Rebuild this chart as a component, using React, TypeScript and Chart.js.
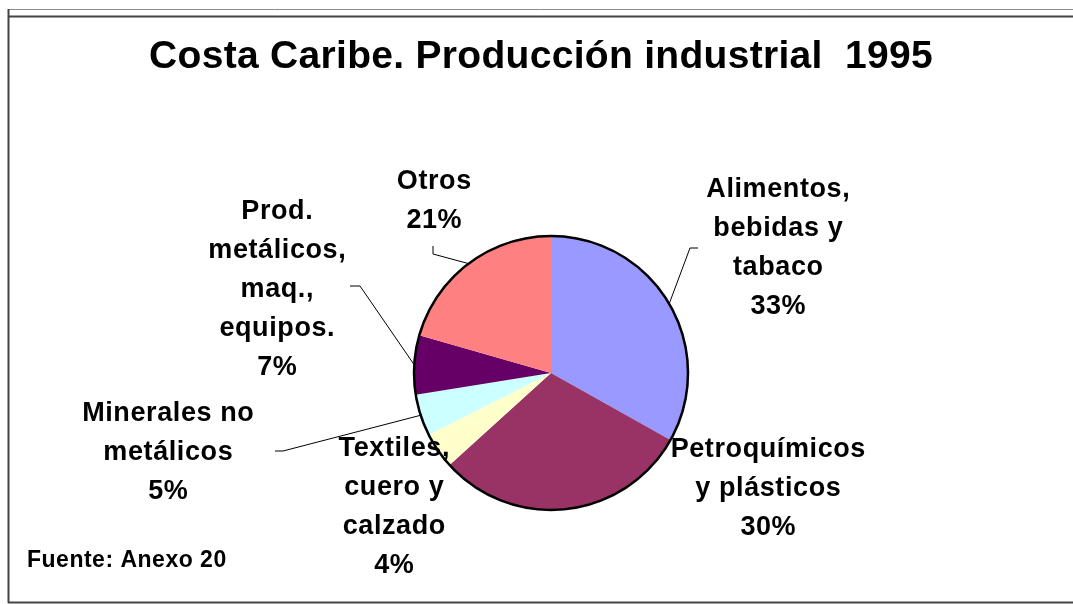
import React, { useEffect, useRef } from "react";
import { Chart, registerables } from "chart.js";
Chart.register(...registerables);

// ---- data ----
const titleText = "Costa Caribe. Producción industrial  1995";
const sourceText = "Fuente: Anexo 20";
const categories: string[][] = [
  ["Alimentos,", "bebidas y", "tabaco"],
  ["Petroquímicos", "y plásticos"],
  ["Textiles,", "cuero y", "calzado"],
  ["Minerales no", "metálicos"],
  ["Prod.", "metálicos,", "maq.,", "equipos."],
  ["Otros"],
];
const values = [33.2, 30.2, 4.3, 4.9, 7.0, 20.6];
const colors = ["#9999FF", "#993366", "#FFFFCC", "#CCFFFF", "#660066", "#FF8080"];

// ---- layout (label anchors: centre x, first baseline) ----
const labelPos = [
  { x: 778, y: 197 },
  { x: 768, y: 457 },
  { x: 394, y: 456 },
  { x: 168, y: 421 },
  { x: 277, y: 219 },
  { x: 434, y: 189 },
];
// leader lines: elbow and end points (null = no leader)
const leaders: (number[][] | null)[] = [
  [[690, 248], [698, 248]],
  null,
  null,
  [[283, 451], [275, 451]],
  [[360, 286], [350, 286]],
  [[433, 254], [433, 246]],
];
const FONT = "'Liberation Sans', Arial, Helvetica, sans-serif";

export default function App() {
  const ref = useRef<HTMLCanvasElement>(null);
  useEffect(() => {
    document.body.style.margin = "0";
    document.body.style.overflow = "hidden";
    const canvas = ref.current!;
    const overlay = {
      id: "overlay",
      beforeDraw(chart: any) {
        const ctx = chart.ctx;
        ctx.save();
        ctx.fillStyle = "#ffffff";
        ctx.fillRect(0, 0, chart.width, chart.height);
        ctx.restore();
      },
      afterDatasetsDraw(chart: any) {
        const ctx: CanvasRenderingContext2D = chart.ctx;
        const arcs = chart.getDatasetMeta(0).data as any[];
        const cx = arcs[0].x, cy = arcs[0].y, r = arcs[0].outerRadius;
        ctx.save();
        // pie outline
        ctx.beginPath();
        ctx.arc(cx, cy, r, 0, Math.PI * 2);
        ctx.lineWidth = 2.5;
        ctx.strokeStyle = "#000";
        ctx.stroke();

        // frame
        ctx.lineWidth = 1;
        ctx.strokeStyle = "#8a8a8a";
        ctx.beginPath();
        ctx.moveTo(8.5, 9.5);
        ctx.lineTo(chart.width, 9.5);
        ctx.stroke();
        ctx.lineWidth = 2;
        ctx.strokeStyle = "#444";
        ctx.beginPath();
        ctx.moveTo(8, 16.5);
        ctx.lineTo(chart.width, 16.5);
        ctx.moveTo(8.5, 9);
        ctx.lineTo(8.5, 603);
        ctx.moveTo(8, 602.5);
        ctx.lineTo(chart.width, 602.5);
        ctx.stroke();

        // leaders
        ctx.lineWidth = 1;
        ctx.strokeStyle = "#000";
        arcs.forEach((a: any, i: number) => {
          const l = leaders[i];
          if (!l) return;
          const mid = (a.startAngle + a.endAngle) / 2;
          const sx = cx + r * Math.cos(mid);
          const sy = cy + r * Math.sin(mid);
          ctx.beginPath();
          ctx.moveTo(sx, sy);
          ctx.lineTo(l[0][0], l[0][1]);
          ctx.lineTo(l[1][0], l[1][1]);
          ctx.stroke();
        });

        // text
        const sum = values.reduce((s, v) => s + v, 0);
        ctx.fillStyle = "#000";
        ctx.textAlign = "center";
        ctx.textBaseline = "alphabetic";
        (ctx as any).letterSpacing = "0.6px";
        ctx.font = `bold 27px ${FONT}`;
        categories.forEach((lines, i) => {
          const all = [...lines, Math.round((values[i] / sum) * 100) + "%"];
          const p = labelPos[i];
          all.forEach((t, k) => ctx.fillText(t, p.x + 0.3, p.y + k * 39));
        });

        (ctx as any).letterSpacing = "0.3px";
        ctx.font = `bold 39px ${FONT}`;
        ctx.fillText(titleText, 541, 68);

        (ctx as any).letterSpacing = "0.5px";
        ctx.textAlign = "left";
        ctx.font = `bold 23px ${FONT}`;
        ctx.fillText(sourceText, 27, 567);
        ctx.restore();
      },
    };
    const chart = new Chart(canvas, {
      type: "pie",
      data: {
        labels: categories.map((c) => c.join(" ")),
        datasets: [
          {
            data: values,
            backgroundColor: colors,
            borderWidth: 0,
            hoverOffset: 0,
          },
        ],
      },
      options: {
        responsive: false,
        animation: false,
        events: [],
        layout: { padding: { left: 414, right: 385, top: 236, bottom: 94 } },
        plugins: {
          legend: { display: false },
          tooltip: { enabled: false },
          title: { display: false },
        },
      },
      plugins: [overlay],
    } as any);
    return () => chart.destroy();
  }, []);
  return <canvas ref={ref} width={1073} height={604} style={{ display: "block" }} />;
}
